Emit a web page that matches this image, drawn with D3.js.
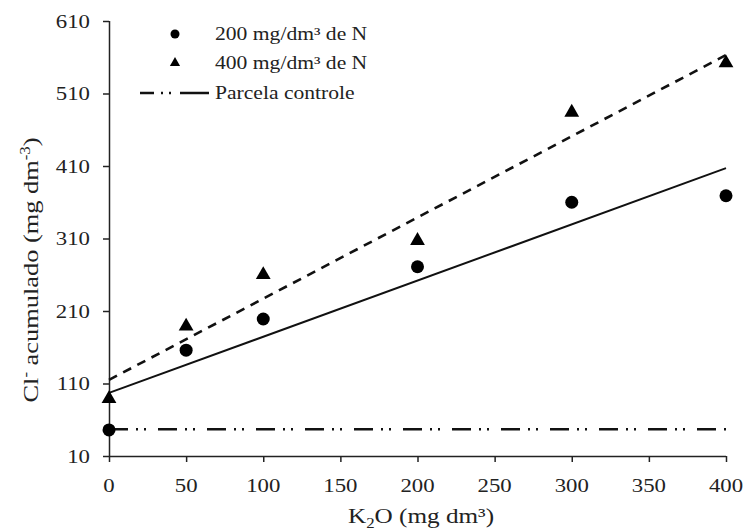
<!DOCTYPE html>
<html>
<head>
<meta charset="utf-8">
<script src="https://cdn.jsdelivr.net/npm/d3@7"></script>
<style>
  body { margin: 0; background: #fff; }
  svg { display: block; }
  text { font-family: "Liberation Serif", "Times New Roman", serif; fill: #222; }
</style>
</head>
<body>
<div id="chart"></div>
<script>
// Data.
const doses = [0, 50, 100, 200, 300, 400];            // K2O (mg dm3)
const n200 = [46, 156, 199, 271, 360, 369];           // 200 mg/dm3 de N
const n400 = [89, 189, 260, 307, 484, 552];           // 400 mg/dm3 de N
const trendX = [0, 400];
const trend200 = [97, 407];                           // fitted line, solid
const trend400 = [115, 563];                          // fitted line, dashed
const controle = 47;                                  // parcela controle
const xTicks = [0, 50, 100, 150, 200, 250, 300, 350, 400];
const yTicks = [10, 110, 210, 310, 410, 510, 610];

const W = 747, H = 530;
const plotLeft = 109, plotRight = 726, plotTop = 21, plotBottom = 456;
const sx = 1.2; // the original serif type is drawn wide

const svg = d3.select('#chart').append('svg')
  .attr('width', W)
  .attr('height', H);

const x = d3.scaleLinear().domain([0, 400]).range([plotLeft, plotRight]);
const y = d3.scaleLinear().domain([10, 610]).range([plotBottom, plotTop]);

// text helper: places text with a horizontal stretch
function label(g, px, py, rot, size, anchor) {
  return g.append('text')
    .attr('transform', `translate(${px},${py})` + (rot ? ` rotate(${rot})` : '') + ` scale(${sx},1)`)
    .attr('font-size', size)
    .attr('text-anchor', anchor || 'start');
}

// Axes
const xAxis = d3.axisBottom(x).tickValues(xTicks).tickSize(6).tickFormat('');
const yAxis = d3.axisLeft(y).tickValues(yTicks).tickSize(6).tickFormat('');

svg.append('g')
  .attr('transform', `translate(0,${plotBottom})`)
  .call(xAxis)
  .call(g => g.select('.domain').attr('d', `M${plotLeft},0.5H${plotRight}`));

svg.append('g')
  .attr('transform', `translate(${plotLeft},0)`)
  .call(yAxis)
  .call(g => g.select('.domain').attr('d', `M0.5,${plotTop}V${plotBottom}`));

svg.selectAll('.domain, .tick line')
  .attr('stroke', '#222')
  .attr('stroke-width', 1.5);

const labels = svg.append('g');
xTicks.forEach(t => {
  label(labels, x(t), 492, 0, 19, 'middle').text(t);
});
yTicks.forEach(t => {
  label(labels, 90, y(t) + 6.5, 0, 19, 'end').text(t);
});

// Axis titles
const xt = label(labels, 421, 523, 0, 21, 'middle');
xt.append('tspan').text('K');
xt.append('tspan').attr('font-size', 14).attr('dy', 5).text('2');
xt.append('tspan').attr('dy', -5).text('O (mg dm³)');

const yt = label(labels, 38, 270, -90, 22, 'middle');
yt.append('tspan').text('Cl');
yt.append('tspan').attr('font-size', 14).attr('dy', -8).text('-');
yt.append('tspan').attr('dy', 8).text(' acumulado (mg dm');
yt.append('tspan').attr('font-size', 14).attr('dy', -8).text('-3');
yt.append('tspan').attr('dy', 8).text(')');

// Control line
const ctrlDash = '19,8,2,6,2,12';
svg.append('line')
  .attr('x1', x(0)).attr('x2', x(400))
  .attr('y1', y(controle)).attr('y2', y(controle))
  .attr('stroke', '#111')
  .attr('stroke-width', 2.6)
  .attr('stroke-dasharray', ctrlDash);

// Trend lines
const line = d3.line().x(d => x(d[0])).y(d => y(d[1]));
svg.append('path')
  .datum(d3.zip(trendX, trend200))
  .attr('d', line)
  .attr('fill', 'none')
  .attr('stroke', '#111')
  .attr('stroke-width', 2);

svg.append('path')
  .datum(d3.zip(trendX, trend400))
  .attr('d', line)
  .attr('fill', 'none')
  .attr('stroke', '#111')
  .attr('stroke-width', 2.6)
  .attr('stroke-dasharray', '9,7');

// Points
const tri = d3.symbol().type(d3.symbolTriangle).size(95);
svg.append('g').selectAll('path')
  .data(d3.zip(doses, n400))
  .join('path')
  .attr('transform', d => `translate(${x(d[0])},${y(d[1])})`)
  .attr('d', tri)
  .attr('fill', '#000');

svg.append('g').selectAll('circle')
  .data(d3.zip(doses, n200))
  .join('circle')
  .attr('cx', d => x(d[0]))
  .attr('cy', d => y(d[1]))
  .attr('r', 6.5)
  .attr('fill', '#000');

// Legend
const leg = svg.append('g');
leg.append('circle').attr('cx', 175).attr('cy', 34).attr('r', 4.5).attr('fill', '#000');
leg.append('path')
  .attr('transform', 'translate(175,63)')
  .attr('d', d3.symbol().type(d3.symbolTriangle).size(45))
  .attr('fill', '#000');
leg.append('line')
  .attr('x1', 140).attr('x2', 209)
  .attr('y1', 93).attr('y2', 93)
  .attr('stroke', '#111')
  .attr('stroke-width', 2.6)
  .attr('stroke-dasharray', '14,7,2,6,2,9,29');

label(leg, 215, 40, 0, 18).text('200 mg/dm³ de N');
label(leg, 215, 69, 0, 18).text('400 mg/dm³ de N');
label(leg, 215, 99, 0, 18).text('Parcela controle');
</script>
</body>
</html>
